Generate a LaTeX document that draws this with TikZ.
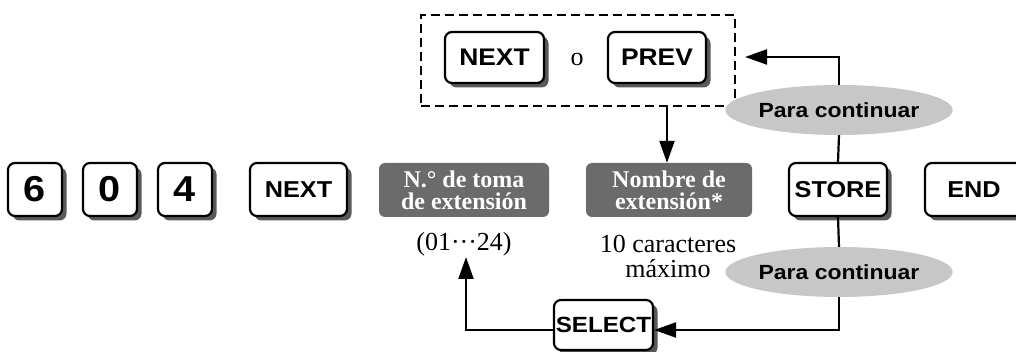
\documentclass[tikz,border=0pt]{standalone}
\usepackage{fontspec}
\setmainfont{Liberation Serif}
\newfontfamily\keyfont{Liberation Sans}[FakeStretch=1.1]
\newfontfamily\parafont{Liberation Sans}[FakeStretch=1.12]
\usetikzlibrary{shapes.geometric,shadows,arrows.meta}
\begin{document}
\begin{tikzpicture}[x=1pt,y=-1pt,
  keybox/.style={draw, line width=2.2pt, rounded corners=7pt, fill=white, inner sep=0pt,
    minimum height=53pt, font=\keyfont\bfseries\fontsize{23}{23}\selectfont,
    drop shadow={shadow xshift=4.5pt, shadow yshift=-4.5pt, fill=black!65, opacity=1}},
  digitkey/.style={keybox, minimum width=54pt, font=\keyfont\bfseries\fontsize{36}{36}\selectfont},
  wordkey/.style={keybox, minimum width=98pt},
  greybox/.style={fill=black!58, rounded corners=6pt, text=white, inner sep=0pt, align=center,
    minimum height=54pt, font=\bfseries\fontsize{24}{22}\selectfont},
  oval/.style={ellipse, fill=black!22, minimum width=166pt, minimum height=50pt, inner sep=0pt,
    font=\parafont\bfseries\fontsize{20.5}{20.5}\selectfont},
  plain/.style={inner sep=0pt, align=center, font=\fontsize{26}{25}\selectfont},
  ln/.style={line width=2.2pt},
  arr/.style={line width=2.2pt, -{Triangle[length=22pt,width=15pt]}}
]
\useasboundingbox (0,0) rectangle (1016,352);
\clip (0,0) rectangle (1016,352);

% main row
\node[digitkey] (k6) at (35,189.5) {6};
\node[digitkey] (k0) at (110,189.5) {0};
\node[digitkey] (k4) at (185,189.5) {4};
\node[wordkey, minimum width=97pt] (next) at (298.5,189.5) {NEXT};
\node[greybox, minimum width=170pt] (g1) at (464,190) {N.° de toma\\de extensión};
\node[greybox, minimum width=166pt] (g2) at (669,190) {Nombre de\\extensión*};
\node[wordkey] (store) at (838,189.5) {STORE};
\node[wordkey] (end) at (974,189.5) {END};

% top group
\node[draw, dash pattern=on 9pt off 5pt, line width=2.2pt, minimum width=314pt, minimum height=91pt, inner sep=0pt] (dbox) at (578,60.5) {};
\node[wordkey, minimum width=99pt, minimum height=51pt, font=\keyfont\bfseries\fontsize{24}{24}\selectfont] (tnext) at (494.5,57.5) {NEXT};
\node[wordkey, minimum height=51pt, font=\keyfont\bfseries\fontsize{24}{24}\selectfont] (tprev) at (657,57.5) {PREV};
\node[plain] (o) at (577,60) {o};

% ovals
\node[oval] (e1) at (839,110) {Para continuar};
\node[oval] (e2) at (839,272) {Para continuar};

% lower texts
\node[plain] (range) at (464,244) {(01···24)};
\node[plain] (maxi) at (668,256) {10 caracteres\\máximo};
\node[wordkey, minimum width=99pt, minimum height=50pt, font=\keyfont\bfseries\fontsize{22}{22}\selectfont] (select) at (603.5,325) {SELECT};

% connectors
\coordinate (tip1) at (745,57);
\coordinate (br) at (839,330);
\coordinate (tip2) at (466,257);
\draw[ln] (store.north) -- (e1.south);
\draw[arr] (e1.north) |- (tip1);
\draw[ln] (store.south) -- (e2.north);
\draw[arr] (e2.south) -- (br) -- (br -| select.east);
\draw[arr] (select.west |- br) -| (tip2);
\draw[arr] (dbox.south -| 667,0) -- (g2.north -| 667,0);
\end{tikzpicture}
\end{document}
